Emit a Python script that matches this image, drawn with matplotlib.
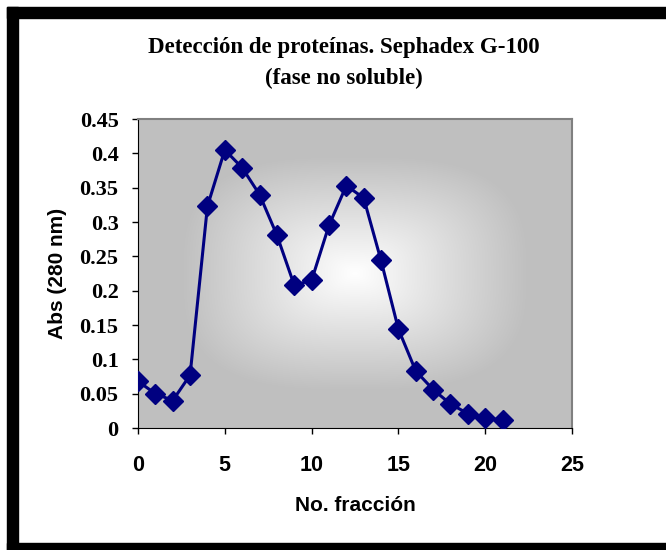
import numpy as np
import matplotlib.pyplot as plt
from matplotlib.patches import Rectangle

# data
fraccion = list(range(22))
absorb = [0.068, 0.050, 0.040, 0.077, 0.323, 0.405, 0.379, 0.340, 0.281, 0.208,
          0.215, 0.295, 0.353, 0.335, 0.244, 0.144, 0.083, 0.056, 0.035, 0.021,
          0.015, 0.011]
xticks = [0, 5, 10, 15, 20, 25]
yticks = [0, 0.05, 0.1, 0.15, 0.2, 0.25, 0.3, 0.35, 0.4, 0.45]
ytick_labels = ['0', '0.05', '0.1', '0.15', '0.2', '0.25', '0.3', '0.35', '0.4', '0.45']

W, H = 666, 550
fig = plt.figure(figsize=(W / 100, H / 100), dpi=100)

# black frame (top, left, bottom) like the original screenshot
fig.patches.append(Rectangle((7 / W, 1 - 18 / H), 1, 11 / H, transform=fig.transFigure,
                             color='black', zorder=0))
fig.patches.append(Rectangle((7 / W, 0), 11 / W, 1 - 7 / H, transform=fig.transFigure,
                             color='black', zorder=0))
fig.patches.append(Rectangle((7 / W, 0), 1, 7 / H, transform=fig.transFigure,
                             color='black', zorder=0))

ax = fig.add_axes([138 / W, 1 - 428 / H, 434 / W, 309 / H])

# gray-to-white gradient from centre
u = np.linspace(-1, 1, 400)
v = np.linspace(-1, 1, 300)
U, V = np.meshgrid(u, v)
t = (np.abs(U) ** 3 + np.abs(V / 0.95) ** 3) ** (1 / 3) / 0.8
t = np.clip(t, 0, 1)
g = 1.0 - (1.0 - 0.75) * t
img = np.dstack([g, g, g])
ax.imshow(img, extent=[0, 25, 0, 0.45], aspect='auto', zorder=0, interpolation='bilinear')

ax.plot(fraccion, absorb, color='#000080', lw=2.2, marker='D', markersize=10.5,
        markerfacecolor='#000080', markeredgecolor='#000080', zorder=3)

ax.set_xlim(0, 25)
ax.set_ylim(0, 0.45)
ax.set_xticks(xticks)
ax.set_yticks(yticks)
ax.set_yticklabels(ytick_labels)

for lab in ax.get_xticklabels():
    lab.set_fontfamily('Liberation Sans')
    lab.set_fontweight('bold')
    lab.set_fontsize(15.5)
for lab in ax.get_yticklabels():
    lab.set_fontfamily('Liberation Serif')
    lab.set_fontweight('bold')
    lab.set_fontsize(16)

ax.tick_params(axis='x', direction='out', length=4.5, width=1, pad=15, color='black')
ax.tick_params(axis='y', direction='out', length=4.5, width=1, pad=9.5, color='black')

ax.spines['top'].set_color('#808080')
ax.spines['right'].set_color('#808080')
ax.spines['top'].set_linewidth(1.5)
ax.spines['right'].set_linewidth(1.5)
ax.spines['left'].set_color('black')
ax.spines['bottom'].set_color('black')

ax.set_xlabel('No. fracción', fontfamily='Liberation Sans', fontweight='bold',
              fontsize=15, labelpad=14)
ax.set_ylabel('Abs (280 nm)', fontfamily='Liberation Sans', fontweight='bold',
              fontsize=15, labelpad=9)

fig.text(344 / W, 1 - 48 / H, 'Detección de proteínas. Sephadex G-100',
         ha='center', va='center', fontfamily='Liberation Serif', fontweight='bold',
         fontsize=16.5)
fig.text(344 / W, 1 - 78 / H, '(fase no soluble)',
         ha='center', va='center', fontfamily='Liberation Serif', fontweight='bold',
         fontsize=16.5)

fig.savefig('out.png', dpi=100, facecolor='white')
